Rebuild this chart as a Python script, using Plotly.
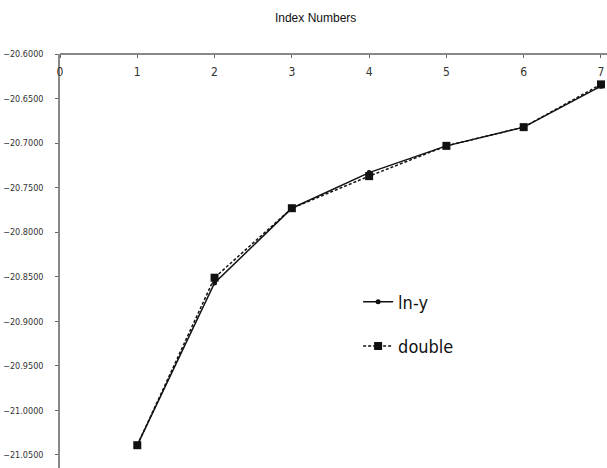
import plotly.graph_objects as go

index_numbers = [1, 2, 3, 4, 5, 6, 7]
ln_y = [-21.039, -20.857, -20.773, -20.733, -20.703, -20.682, -20.636]
double = [-21.039, -20.851, -20.773, -20.737, -20.703, -20.682, -20.634]
y_ticks = [-20.60, -20.65, -20.70, -20.75, -20.80, -20.85, -20.90, -20.95, -21.00, -21.05]
x_ticks = [0, 1, 2, 3, 4, 5, 6, 7]

FONT = "DejaVu Sans Condensed, Liberation Sans Narrow, Arial Narrow, Liberation Sans, Arial"

fig = go.Figure()
fig.add_trace(go.Scatter(
    x=index_numbers, y=ln_y, name="ln-y", mode="lines+markers",
    line=dict(color="#111111", width=1.5),
    marker=dict(symbol="circle", size=5, color="#111111"),
    legend="legend",
))
fig.add_trace(go.Scatter(
    x=index_numbers, y=double, name="double", mode="lines+markers",
    line=dict(color="#111111", width=1.5, dash="3px,2px"),
    marker=dict(symbol="square", size=8, color="#111111"),
    legend="legend2",
))

fig.update_layout(
    width=607, height=468,
    margin=dict(l=60, r=0, t=54, b=0),
    paper_bgcolor="white", plot_bgcolor="white",
    font=dict(family=FONT, color="#222222"),
    title=dict(text="Index Numbers", x=0.52, xref="container", xanchor="center",
               y=0.963, yref="container", yanchor="middle",
               font=dict(family="Liberation Sans, Arial", size=12, color="#111111")),
    legend=dict(x=0.545, y=0.401, xanchor="left", yanchor="middle",
                font=dict(family=FONT, size=18, color="#111111"),
                bgcolor="rgba(0,0,0,0)", itemwidth=30),
    legend2=dict(x=0.545, y=0.294, xanchor="left", yanchor="middle",
                 font=dict(family=FONT, size=18, color="#111111"),
                 bgcolor="rgba(0,0,0,0)", itemwidth=30),
    showlegend=True,
)
fig.update_xaxes(
    range=[0, 7.078], side="bottom", anchor="free", position=1,
    tickvals=x_ticks, ticktext=[str(v) for v in x_ticks],
    ticks="outside", ticklen=3, tickcolor="#666666", ticklabelstandoff=4,
    showline=True, linecolor="#888888", linewidth=1.5, showgrid=False, zeroline=False,
    tickfont=dict(family=FONT, size=12, color="#333333"),
)
fig.update_yaxes(
    range=[-21.0646, -20.5999], tickvals=y_ticks, tickformat=".4f",
    ticks="outside", ticklen=3, tickcolor="#666666", ticklabelstandoff=10,
    showline=True, linecolor="#888888", linewidth=1.5, showgrid=False, zeroline=False,
    tickfont=dict(family=FONT, size=9, color="#333333"),
)

fig.write_html("out.html")
